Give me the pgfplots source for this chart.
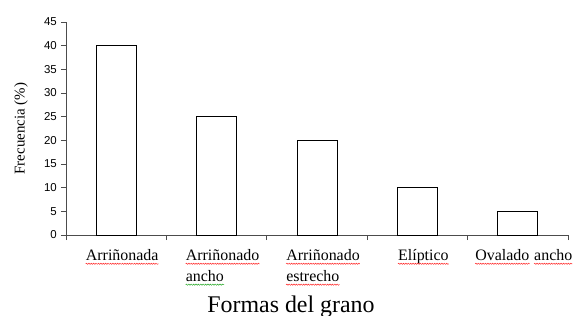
\documentclass[border=0pt]{standalone}
\usepackage{fontspec}
\setmainfont{Liberation Serif}
\newfontfamily\arial{Liberation Sans}
\usepackage{pgfplots}
\pgfplotsset{compat=1.18}
\usetikzlibrary{decorations.pathmorphing}
\newcommand\sq[2][red]{\tikz[baseline=(t.base)]{\node[inner sep=0pt](t){#2};\draw[#1!85!white, line width=0.5bp, decorate, decoration={snake, amplitude=0.6bp, segment length=2.4bp}] ([yshift=-3.5bp]t.base west) -- ([yshift=-3.5bp]t.base east);}}
\begin{document}
\begin{tikzpicture}
\begin{axis}[
  scale only axis,
  width=502bp, height=213bp,
  xmin=-0.5, xmax=4.5,
  ymin=0, ymax=45,
  axis lines*=left,
  axis line style={black!70, line width=0.8bp},
  ytick={0,5,...,45},
  tick align=outside,
  major tick length=5bp,
  tick style={black!70, line width=0.8bp},
  /pgf/number format/assume math mode=true,
  yticklabel style={font=\arial\fontsize{11.5}{13}\selectfont, inner sep=0pt, xshift=-4bp},
  xtick={-0.5,0.5,...,4.5},
  xticklabels={,,,,,},
  extra x ticks={0,1,2,3,4},
  extra x tick labels={\sq{Arriñonada},{\sq{Arriñonado}\\\sq[green!60!black]{ancho}},{\sq{Arriñonado}\\\sq{estrecho}},\sq{Elíptico},\sq{Ovalado} \sq{ancho}},
  extra x tick style={major tick length=0pt, xticklabel style={font=\fontsize{16}{21}\selectfont, align=left, anchor=north, inner sep=0pt, yshift=-14bp, xshift=6bp}},
  ylabel={Frecuencia (\%)},
  ylabel style={font=\fontsize{15}{18}\selectfont, at={(axis description cs:0,0.5)}, anchor=center, yshift=45bp},
  xlabel={Formas del grano},
  xlabel style={font=\fontsize{24}{28}\selectfont, at={(axis description cs:0.5,0)}, anchor=base, yshift=-77bp, xshift=-26bp},
  clip=false,
]
\addplot[ybar, bar width=40bp, draw=black, fill=white, line width=0.8bp] coordinates {(0,40) (1,25) (2,20) (3,10) (4,5)};
\end{axis}
\pgfresetboundingbox
\path[use as bounding box] (-66bp,-81bp) rectangle (512bp,235bp);
\end{tikzpicture}
\end{document}
